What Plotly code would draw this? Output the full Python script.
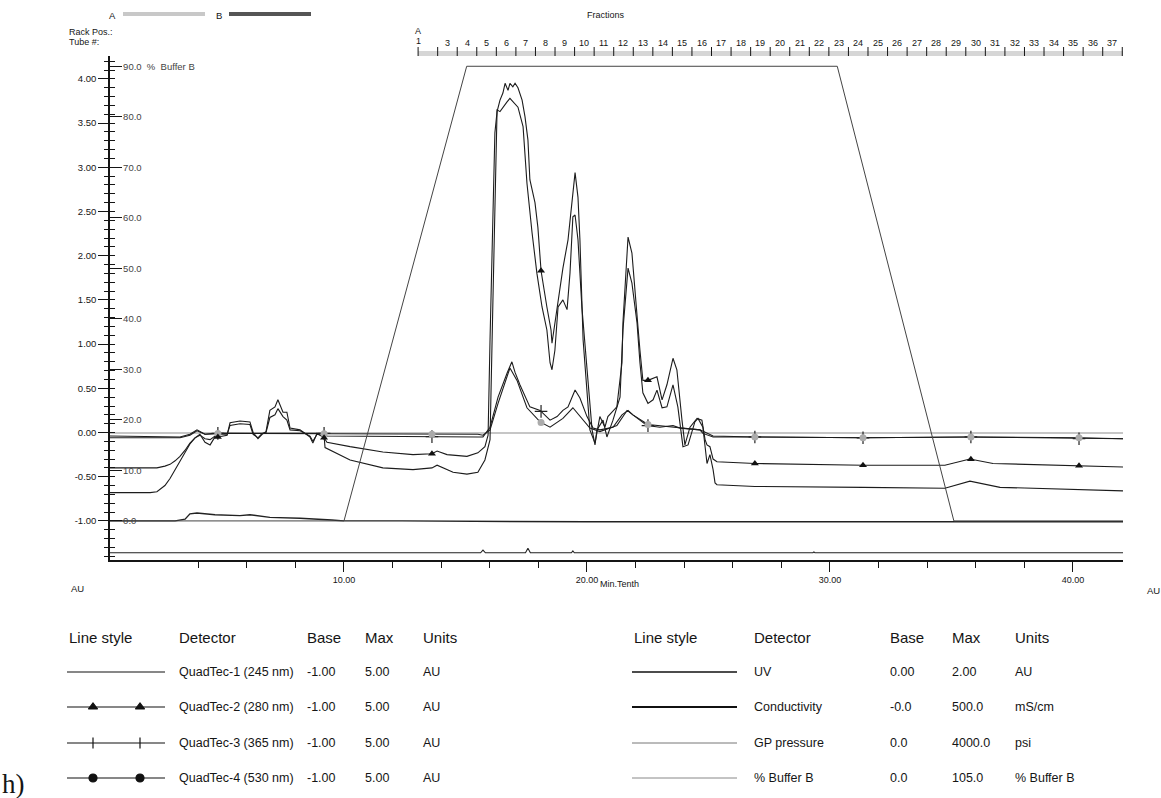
import numpy as np
import plotly.graph_objects as go

W, H = 1161, 798

# ---------------------------------------------------------------- run data
# time in minutes, detector signals in AU
qt1_points = [
    (0.37, -0.68), (2.02, -0.68), (2.30, -0.67), (2.63, -0.60), (2.84, -0.52),
    (3.05, -0.42), (3.25, -0.32), (3.46, -0.22), (3.66, -0.13), (3.87, -0.06),
    (4.07, -0.02), (4.28, -0.11), (4.49, -0.14), (4.69, -0.05), (4.81, -0.02),
    (5.19, -0.02), (5.31, 0.08), (5.72, 0.10), (6.13, 0.09), (6.26, -0.02),
    (6.46, -0.06), (6.63, -0.01), (6.79, 0.00), (6.95, 0.17), (7.16, 0.20),
    (7.28, 0.27), (7.49, 0.18), (7.65, 0.14), (7.78, 0.03), (8.19, 0.02),
    (8.60, -0.04), (8.72, -0.10), (8.89, -0.02), (9.18, -0.04), (9.22, -0.17),
    (10.25, -0.31), (11.60, -0.40), (12.84, -0.42), (13.62, -0.40), (13.83, -0.37),
    (14.49, -0.45), (15.06, -0.47), (15.51, -0.45), (15.80, -0.31), (16.01, -0.08),
    (16.13, 1.50), (16.30, 3.65), (16.42, 3.63), (16.54, 3.68), (16.71, 3.74),
    (16.83, 3.78), (16.95, 3.74), (17.16, 3.68), (17.37, 3.46), (17.53, 2.82),
    (17.74, 2.26), (17.94, 1.80), (18.15, 1.42), (18.35, 1.16), (18.48, 0.79),
    (18.56, 0.71), (18.68, 0.93), (18.81, 1.42), (19.01, 1.50), (19.18, 1.39),
    (19.30, 1.80), (19.42, 2.44), (19.51, 2.46), (19.63, 2.18), (19.79, 1.42),
    (20.21, 0.03), (20.33, -0.14), (20.41, 0.03), (20.66, 0.14), (20.82, -0.05),
    (21.07, 0.14), (21.36, 0.40), (21.48, 1.16), (21.56, 1.42), (21.69, 1.86),
    (21.85, 1.69), (22.06, 1.24), (22.18, 0.79), (22.30, 0.45), (22.51, 0.33),
    (22.72, 0.37), (22.88, 0.48), (23.09, 0.28), (23.29, 0.29), (23.54, 0.54),
    (23.74, 0.29), (23.95, -0.16), (24.16, -0.14), (24.44, 0.12), (24.57, 0.16),
    (24.77, 0.06), (24.94, -0.35), (25.06, -0.25), (25.19, -0.42), (25.27, -0.57),
    (25.35, -0.59), (26.91, -0.61), (31.36, -0.62), (34.73, -0.63), (35.76, -0.55),
    (37.00, -0.62), (42.06, -0.66),
]

qt2_points = [
    (0.37, -0.40), (2.30, -0.40), (2.63, -0.38), (2.84, -0.36), (3.05, -0.32),
    (3.25, -0.27), (3.46, -0.20), (3.66, -0.12), (3.87, -0.06), (4.07, -0.03),
    (4.28, -0.07), (4.49, -0.08), (4.69, -0.04), (4.81, -0.05), (5.19, -0.03),
    (5.31, 0.11), (5.72, 0.13), (6.13, 0.12), (6.26, 0.00), (6.46, -0.07),
    (6.63, -0.02), (6.79, 0.01), (6.95, 0.25), (7.16, 0.29), (7.28, 0.37),
    (7.49, 0.23), (7.65, 0.23), (7.78, 0.05), (8.19, 0.03), (8.60, -0.05),
    (8.72, -0.12), (8.89, -0.01), (9.18, -0.06), (9.30, -0.11), (10.25, -0.16),
    (11.60, -0.22), (12.84, -0.25), (13.62, -0.24), (13.83, -0.21), (14.24, -0.25),
    (15.06, -0.27), (15.51, -0.23), (15.80, -0.16), (15.93, -0.03), (16.01, 1.05),
    (16.21, 3.39), (16.30, 3.63), (16.42, 3.76), (16.54, 3.84), (16.63, 3.95),
    (16.75, 3.87), (16.83, 3.95), (16.95, 3.91), (17.04, 3.95), (17.16, 3.90),
    (17.33, 3.76), (17.45, 3.57), (17.57, 3.31), (17.65, 2.86), (17.86, 2.60),
    (17.98, 2.32), (18.11, 1.83), (18.35, 1.42), (18.52, 1.16), (18.56, 1.01),
    (18.77, 1.42), (19.01, 1.86), (19.22, 2.18), (19.38, 2.60), (19.51, 2.94),
    (19.63, 2.66), (19.71, 2.18), (19.84, 1.05), (20.12, 0.03), (20.33, -0.12),
    (20.53, 0.18), (20.74, 0.06), (20.86, 0.18), (21.23, 0.29), (21.44, 0.79),
    (21.48, 1.24), (21.65, 1.99), (21.69, 2.21), (21.85, 2.03), (21.98, 1.64),
    (22.10, 1.19), (22.18, 0.93), (22.30, 0.59), (22.51, 0.59), (22.88, 0.63),
    (23.09, 0.37), (23.29, 0.54), (23.54, 0.84), (23.70, 0.71), (23.91, 0.14),
    (24.03, -0.14), (24.24, 0.06), (24.53, 0.16), (24.73, 0.14), (24.86, -0.08),
    (24.94, -0.14), (25.06, -0.16), (25.19, -0.30), (25.35, -0.33), (26.91, -0.35),
    (31.36, -0.37), (34.73, -0.37), (35.76, -0.30), (36.71, -0.35), (42.06, -0.39),
]

qt3_points = [
    (0.37, -0.04), (3.25, -0.05), (3.66, -0.02), (3.95, 0.03), (4.28, -0.02),
    (4.81, -0.01), (9.18, -0.01), (9.30, -0.04), (15.51, -0.05), (15.72, -0.05),
    (16.01, 0.06), (16.34, 0.40), (16.71, 0.67), (16.91, 0.80), (17.04, 0.68),
    (17.24, 0.54), (17.65, 0.29), (18.07, 0.25), (18.48, 0.14), (18.77, 0.18),
    (19.01, 0.25), (19.22, 0.29), (19.51, 0.48), (19.71, 0.39), (20.00, 0.18),
    (20.25, 0.05), (20.53, 0.03), (21.07, 0.06), (21.44, 0.20), (21.69, 0.25),
    (21.89, 0.20), (22.47, 0.08), (23.00, 0.06), (23.54, 0.08), (23.83, 0.05),
    (24.65, 0.03), (24.77, -0.01), (25.19, -0.05), (26.91, -0.05), (31.36, -0.06),
    (35.76, -0.05), (40.25, -0.07), (42.06, -0.07),
]

qt4_points = [
    (0.37, -0.06), (3.25, -0.06), (3.66, -0.03), (3.95, 0.02), (4.28, -0.02),
    (4.81, -0.01), (15.51, -0.02), (15.72, -0.03), (16.01, 0.03), (16.34, 0.33),
    (16.83, 0.73), (17.12, 0.59), (17.53, 0.28), (18.07, 0.12), (18.48, 0.06),
    (19.01, 0.16), (19.42, 0.28), (19.71, 0.18), (20.12, 0.05), (20.53, 0.01),
    (21.23, 0.08), (21.65, 0.25), (21.89, 0.20), (22.51, 0.09), (23.54, 0.06),
    (24.65, 0.03), (25.19, -0.04), (26.91, -0.05), (31.36, -0.06), (35.76, -0.05),
    (40.25, -0.06), (42.06, -0.07),
]

cond_points = [
    (0.37, -1.00), (3.05, -1.00), (3.46, -0.98), (3.66, -0.92), (3.95, -0.91),
    (4.69, -0.93), (5.72, -0.94), (6.13, -0.93), (6.95, -0.96), (8.19, -0.97),
    (9.50, -0.99), (10.00, -1.00), (12.40, -1.00), (20.00, -1.01), (42.06, -1.01),
]

press_points = [
    (0.37, -1.36), (15.62, -1.36), (15.72, -1.33), (15.82, -1.36), (17.47, -1.36),
    (17.57, -1.31), (17.67, -1.36), (19.36, -1.36), (19.42, -1.34), (19.48, -1.36),
    (29.30, -1.36), (29.34, -1.35), (29.38, -1.36), (42.06, -1.36),
]

# gradient programme, % Buffer B
buffer_t = [0.37, 10.0, 15.05, 30.3, 35.1, 42.06]
buffer_pct = [0, 0, 90, 90, 0, 0]

# detector marker times (min)
marker_t = [4.81, 9.18, 13.62, 18.11, 22.51, 26.91, 31.36, 35.80, 40.25]

# fraction collector: first tube, tube width (min), number of tubes
frac_start = 13.05
frac_width = 0.805
frac_count = 36

time_ticks = [10, 20, 30, 40]
au_ticks = [-1.0, -0.5, 0.0, 0.5, 1.0, 1.5, 2.0, 2.5, 3.0, 3.5, 4.0]
pct_ticks = [0, 10, 20, 30, 40, 50, 60, 70, 80, 90]

# detector table
quad_names = ["QuadTec-1 (245 nm)", "QuadTec-2 (280 nm)", "QuadTec-3 (365 nm)", "QuadTec-4 (530 nm)"]
quad_base = ["-1.00", "-1.00", "-1.00", "-1.00"]
quad_max = ["5.00", "5.00", "5.00", "5.00"]
quad_units = ["AU", "AU", "AU", "AU"]
aux_names = ["UV", "Conductivity", "GP pressure", "% Buffer B"]
aux_base = ["0.00", "-0.0", "0.0", "0.0"]
aux_max = ["2.00", "500.0", "4000.0", "105.0"]
aux_units = ["AU", "mS/cm", "psi", "% Buffer B"]

# ---------------------------------------------------------------- scales
T_MIN, T_MAX = 0.37, 42.06
AU_MIN, AU_MAX = -1.442, 4.259
B_BASE, B_MAX = 0.0, 105.0          # % Buffer B drawn from -1 AU to 5 AU


def au_to_pct(v):
    return B_BASE + (v + 1.0) * (B_MAX - B_BASE) / 6.0


FONT = "Liberation Sans, Arial, sans-serif"
INK = "#151515"

X0, X1, Y0, Y1 = 110, 1123, 56, 560   # frame of the chromatogram


def px(x):
    return x / W


def py(y):
    return 1 - y / H


fig = go.Figure()

# gradient
fig.add_trace(go.Scatter(x=buffer_t, y=buffer_pct, yaxis="y3", mode="lines",
                         line=dict(color="#444", width=1)))
# conductivity and pressure
for pts, wd in [(cond_points, 1.4), (press_points, 1.1)]:
    t, v = zip(*pts)
    fig.add_trace(go.Scatter(x=t, y=v, mode="lines", line=dict(color="#222", width=wd)))

# QuadTec channels
series = {}
for name, pts in [("qt4", qt4_points), ("qt3", qt3_points), ("qt1", qt1_points), ("qt2", qt2_points)]:
    t, v = zip(*pts)
    series[name] = (np.array(t), np.array(v))
    fig.add_trace(go.Scatter(x=t, y=v, mode="lines", line=dict(color="#1c1c1c", width=1.1)))

mt = np.array(marker_t)
fig.add_trace(go.Scatter(x=mt, y=np.interp(mt, *series["qt3"]), mode="markers",
                         marker=dict(symbol="cross-thin-open", size=9, color="#222",
                                     line=dict(color="#222", width=1.2))))
fig.add_trace(go.Scatter(x=mt, y=np.interp(mt, *series["qt4"]), mode="markers",
                         marker=dict(symbol="circle", size=7, color="#ababab",
                                     line=dict(width=0))))
fig.add_trace(go.Scatter(x=mt, y=np.interp(mt, *series["qt2"]), mode="markers",
                         marker=dict(symbol="triangle-up", size=7, color="#111",
                                     line=dict(width=0))))

# fraction band and tube boundaries
frac_bounds = frac_start + frac_width * np.arange(frac_count + 1)
fig.add_shape(type="rect", xref="x", yref="paper", x0=frac_bounds[0], x1=T_MAX,
              y0=py(Y0), y1=py(51), fillcolor="#d6d6d6", line=dict(width=0))
for b in frac_bounds:
    fig.add_shape(type="line", xref="x", yref="paper", x0=b, x1=b, y0=py(Y0), y1=py(47),
                  line=dict(color=INK, width=1))

annotations = []


def text(x, y, s, size=9.5, xa="left", ya="middle", family=FONT, color=INK):
    annotations.append(dict(x=px(x), y=py(y), xref="paper", yref="paper", text=s,
                            showarrow=False, xanchor=xa, yanchor=ya,
                            font=dict(family=family, size=size, color=color)))


# fraction labels
annotations.append(dict(x=frac_bounds[0], y=py(41), xref="x", yref="paper", text="1",
                        showarrow=False, xanchor="center", yanchor="middle",
                        font=dict(family=FONT, size=9, color=INK)))
annotations.append(dict(x=frac_bounds[0], y=py(31), xref="x", yref="paper", text="A",
                        showarrow=False, xanchor="center", yanchor="middle",
                        font=dict(family=FONT, size=9, color=INK)))
for n in range(3, frac_count + 2):
    mid = 0.5 * (frac_bounds[n - 2] + frac_bounds[n - 1])
    annotations.append(dict(x=mid, y=py(43), xref="x", yref="paper", text=str(n),
                            showarrow=False, xanchor="center", yanchor="middle",
                            font=dict(family=FONT, size=9, color=INK)))

# header
text(107, 15, "A", 9.5)
text(214, 15, "B", 9.5)
fig.add_shape(type="rect", xref="paper", yref="paper", x0=px(123), x1=px(205),
              y0=py(16), y1=py(12), fillcolor="#c8c8c8", line=dict(width=0))
fig.add_shape(type="rect", xref="paper", yref="paper", x0=px(229), x1=px(311),
              y0=py(16), y1=py(12), fillcolor="#555555", line=dict(width=0))
text(606, 15, "Fractions", 9, xa="center")
text(67, 32, "Rack Pos.:", 9)
text(67, 42, "Tube #:", 9)
text(69, 588, "AU", 9.5)
text(1145, 590, "AU", 9.5)
text(598, 584, "Min.Tenth", 9)

# detector table
for x0, hdr in [(67, "Line style"), (177, "Detector"), (305, "Base"), (363, "Max"), (421, "Units"),
                (632, "Line style"), (752, "Detector"), (888, "Base"), (950, "Max"), (1013, "Units")]:
    text(x0, 637, hdr, 15)

rows_y = [672, 707, 743, 778]
for i, yy in enumerate(rows_y):
    text(177, yy, quad_names[i], 12.5)
    text(305, yy, quad_base[i], 12.5)
    text(363, yy, quad_max[i], 12.5)
    text(421, yy, quad_units[i], 12.5)
    text(752, yy, aux_names[i], 12.5)
    text(888, yy, aux_base[i], 12.5)
    text(950, yy, aux_max[i], 12.5)
    text(1013, yy, aux_units[i], 12.5)

text(0, 801, "h)", 27, ya="bottom", family="Liberation Serif, Times New Roman, serif")

# line-style samples, drawn on a pixel-space overlay axis
sample_syms = [None, "triangle-up", "line-ns-open", "circle"]
for i, yy in enumerate(rows_y):
    fig.add_trace(go.Scatter(x=[67, 165], y=[yy, yy], xaxis="x9", yaxis="y9", mode="lines",
                             line=dict(color="#111", width=1.2)))
    if sample_syms[i]:
        fig.add_trace(go.Scatter(x=[93, 140], y=[yy, yy], xaxis="x9", yaxis="y9", mode="markers",
                                 marker=dict(symbol=sample_syms[i], size=8, color="#111",
                                             line=dict(color="#111", width=1.2))))
for yy, col, wd in zip(rows_y, ["#111", "#111", "#777", "#888"], [1.5, 2.2, 1.0, 1.0]):
    fig.add_trace(go.Scatter(x=[632, 737], y=[yy, yy], xaxis="x9", yaxis="y9", mode="lines",
                             line=dict(color=col, width=wd)))

au_minor = [round(v, 2) for v in np.arange(-1.4, 4.25, 0.1)]
pct_minor = list(np.arange(-7.0, 92.0, 1.75))
au_text = [f"{v:.2f}" for v in au_ticks]
pct_text = [f"{v:.1f}" for v in pct_ticks]
pct_text[-1] = "90.0  %  Buffer B"

dom_x = [px(X0), px(X1)]
dom_y = [py(Y1), py(Y0)]

fig.update_layout(
    width=W, height=H, autosize=False,
    margin=dict(l=0, r=0, t=0, b=0),
    paper_bgcolor="white", plot_bgcolor="rgba(0,0,0,0)",
    showlegend=False,
    font=dict(family=FONT, size=9.5, color=INK),
    annotations=annotations,
    xaxis=dict(domain=dom_x, range=[T_MIN, T_MAX], anchor="y",
               tickmode="array", tickvals=time_ticks, ticktext=[f"{v:.2f}" for v in time_ticks],
               ticks="outside", ticklen=10, tickwidth=1, tickcolor=INK,
               minor=dict(tickvals=list(range(2, 42, 2)), ticks="outside", ticklen=6,
                          tickwidth=1, tickcolor=INK),
               showline=True, linecolor=INK, linewidth=1.5, showgrid=False, zeroline=False,
               tickfont=dict(size=9)),
    xaxis2=dict(overlaying="x", side="top", anchor="y", range=[T_MIN, T_MAX],
                showticklabels=False, ticks="",
                showline=True, linecolor=INK, linewidth=1.5, showgrid=False, zeroline=False),
    yaxis=dict(domain=dom_y, range=[AU_MIN, AU_MAX], anchor="x",
               tickmode="array", tickvals=au_ticks, ticktext=au_text,
               ticks="outside", ticklen=10, tickwidth=1, tickcolor=INK,
               minor=dict(tickvals=au_minor, ticks="outside", ticklen=4, tickwidth=1, tickcolor=INK),
               showline=True, linecolor=INK, linewidth=1.5, showgrid=False,
               zeroline=True, zerolinecolor="#c6c6c6", zerolinewidth=1.5,
               tickfont=dict(size=9.5)),
    yaxis3=dict(overlaying="y", side="left", anchor="x",
                range=[au_to_pct(AU_MIN), au_to_pct(AU_MAX)],
                tickmode="array", tickvals=pct_ticks, ticktext=pct_text,
                ticks="inside", ticklen=12, tickwidth=1, tickcolor=INK,
                ticklabelposition="inside",
                minor=dict(tickvals=pct_minor, ticks="inside", ticklen=5, tickwidth=1, tickcolor=INK),
                showline=False, showgrid=False, zeroline=False, tickfont=dict(size=9.5)),
    yaxis4=dict(overlaying="y", side="right", anchor="x", range=[AU_MIN, AU_MAX],
                tickmode="array", tickvals=au_ticks, ticktext=au_text,
                ticks="outside", ticklen=12, tickwidth=1, tickcolor=INK,
                minor=dict(tickvals=au_minor, ticks="outside", ticklen=6, tickwidth=1, tickcolor=INK),
                showline=True, linecolor=INK, linewidth=1.5, showgrid=False, zeroline=False,
                tickfont=dict(size=9.5)),
    xaxis9=dict(domain=[0, 1], range=[0, W], anchor="y9", visible=False),
    yaxis9=dict(domain=[0, 1], range=[H, 0], anchor="x9", visible=False),
)

fig.write_html("out.html")
